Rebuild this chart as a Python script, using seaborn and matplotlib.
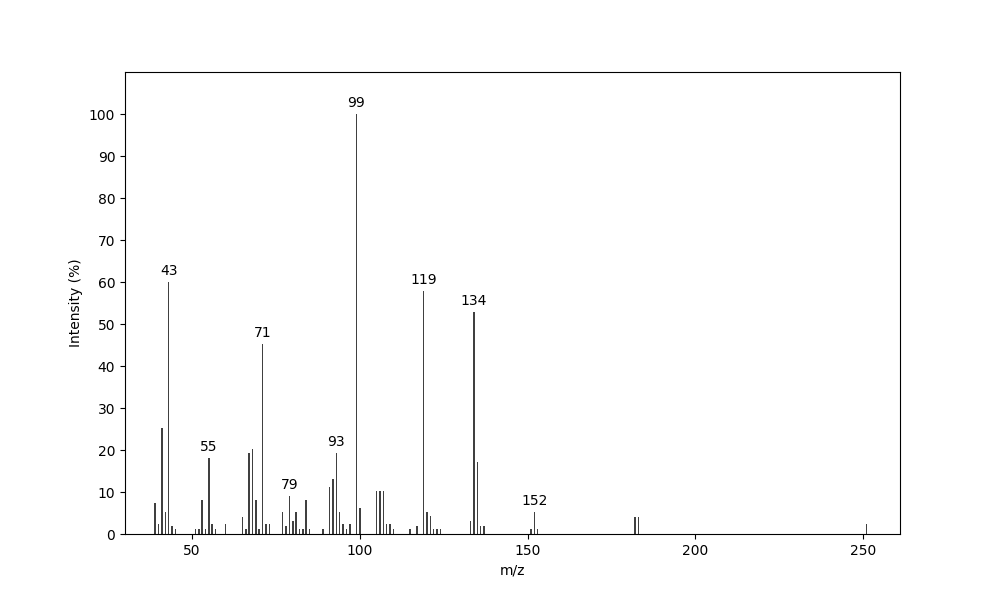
import matplotlib
matplotlib.use("Agg")
import matplotlib.pyplot as plt
import seaborn as sns
import pandas as pd

mz = [39, 40, 41, 42, 43, 44, 45, 51, 52, 53, 54, 55, 56, 57, 60,
      65, 66, 67, 68, 69, 70, 71, 72, 73, 77, 78, 79, 80, 81, 82, 83, 84, 85,
      89, 91, 92, 93, 94, 95, 96, 97, 99, 100, 105, 106, 107, 108, 109, 110,
      115, 117, 119, 120, 121, 122, 123, 124, 133, 134, 135, 136, 137,
      151, 152, 153, 182, 183, 251]
intensity = [7.3, 2.4, 25.2, 5.2, 60.0, 1.9, 1.2, 1.2, 1.2, 8.1, 1.2, 18.1, 2.4, 1.2, 2.4,
             4.1, 1.2, 19.3, 20.2, 8.1, 1.2, 45.2, 2.4, 2.4, 5.2, 1.9, 9.0, 3.1, 5.2, 1.2, 1.2, 8.1, 1.2,
             1.2, 11.2, 13.1, 19.3, 5.2, 2.4, 1.2, 2.4, 100.0, 6.2, 10.2, 10.2, 10.2, 2.4, 2.4, 1.2,
             1.2, 1.9, 57.8, 5.2, 4.3, 1.2, 1.2, 1.2, 3.1, 52.9, 17.2, 1.9, 1.9,
             1.2, 5.2, 1.2, 4.0, 4.0, 2.4]
labeled_peaks = [43, 55, 71, 79, 93, 99, 119, 134, 152]

df = pd.DataFrame({"mz": mz, "intensity": intensity})

fig, ax = plt.subplots(figsize=(10, 6), dpi=100)
sns.barplot(data=df, x="mz", y="intensity", native_scale=True, width=0.45,
            color="#404040", saturation=1, errorbar=None, ax=ax)

for p in labeled_peaks:
    v = intensity[mz.index(p)]
    ax.text(p, v + 1.0, str(p), ha="center", va="bottom", fontsize=10)

ax.set_xlim(30, 261)
ax.set_ylim(0, 110)
ax.set_yticks(range(0, 101, 10))
ax.set_xticks([50, 100, 150, 200, 250])
ax.set_xlabel("m/z")
ax.set_ylabel("Intensity (%)")
fig.savefig("out.png", dpi=100)
